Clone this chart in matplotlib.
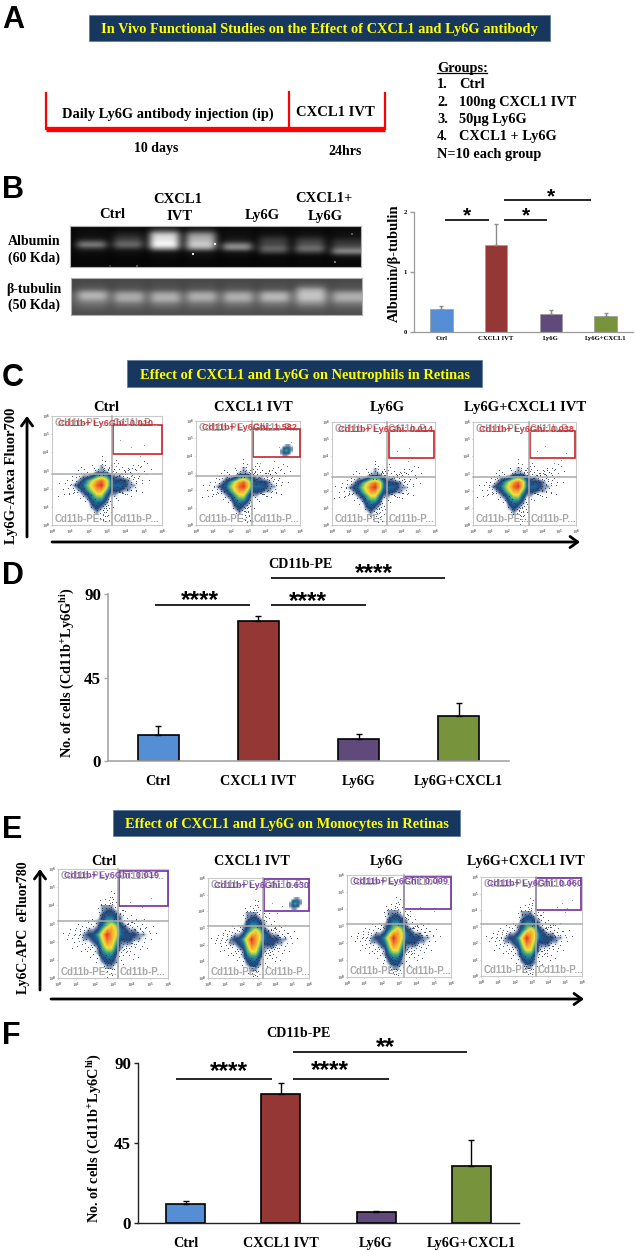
import numpy as np
import matplotlib
matplotlib.use("Agg")
import matplotlib.pyplot as plt
from matplotlib.colors import LinearSegmentedColormap
from matplotlib.patches import Rectangle

W, H = 636, 1250
SERIF = "Liberation Serif"
SANS = "Liberation Sans"
plt.rcParams["font.family"] = [SERIF, "DejaVu Serif"]
plt.rcParams["mathtext.fontset"] = "custom"
plt.rcParams["mathtext.rm"] = "Liberation Serif:bold"
plt.rcParams["mathtext.it"] = "Liberation Serif:bold"
plt.rcParams["mathtext.bf"] = "Liberation Serif:bold"
plt.rcParams["mathtext.default"] = "rm"

# bar data
categories_b = ["Ctrl", "CXCL1 IVT", "Ly6G", "Ly6G+CXCL1"]
values_b = [0.39, 1.45, 0.30, 0.27]
errors_b = [0.04, 0.35, 0.06, 0.04]
categories_d = ["Ctrl", "CXCL1 IVT", "Ly6G", "Ly6G+CXCL1"]
values_d = [14.1, 75.2, 11.7, 24.3]
errors_d = [4.7, 2.9, 3.1, 6.7]
categories_f = ["Ctrl", "CXCL1 IVT", "Ly6G", "Ly6G+CXCL1"]
values_f = [10.5, 72.3, 6.2, 31.8]
errors_f = [1.7, 6.4, 0.6, 15.0]
bar_colors = ["#558ED5", "#953735", "#604A7B", "#77933C"]

groups_text = ["1.", "2.", "3.", "4."]
groups_names = ["Ctrl", "100ng CXCL1 IVT", "50µg Ly6G", "CXCL1 + Ly6G"]

# gel lanes, grey level from top to bottom of each lane
albumin_lanes = [
    [.05, .05, .06, .08, .28, .55, .22, .06, .04, .03, .03, .03],
    [.05, .06, .14, .22, .32, .45, .22, .06, .04, .03, .03, .03],
    [.12, .35, .8, .88, .92, 1.0, .65, .12, .05, .04, .03, .03],
    [.08, .22, .58, .68, .74, .82, .62, .12, .06, .04, .03, .03],
    [.04, .05, .06, .08, .16, .52, .58, .12, .05, .03, .03, .03],
    [.04, .05, .08, .18, .26, .28, .42, .3, .06, .03, .03, .03],
    [.04, .05, .07, .16, .27, .32, .47, .3, .06, .03, .03, .03],
    [.04, .05, .06, .1, .2, .24, .38, .6, .16, .04, .03, .03],
]
albumin_gap = [.03, .03, .03, .03, .03, .03, .03, .03, .03, .02, .02, .02]
albumin_spot_x = [215, 193, 137, 335, 352, 110]
albumin_spot_y = [244, 254, 266, 262, 234, 266]
tubulin_lanes = [
    [.28, .3, .32, .42, .68, .72, .6, .46, .4, .34, .31],
    [.28, .3, .31, .36, .6, .68, .66, .48, .4, .34, .31],
    [.28, .3, .31, .36, .6, .7, .68, .5, .41, .34, .31],
    [.28, .3, .31, .37, .62, .7, .64, .47, .4, .34, .31],
    [.28, .3, .31, .37, .6, .7, .66, .48, .4, .34, .31],
    [.28, .3, .31, .37, .64, .74, .68, .48, .4, .34, .31],
    [.28, .32, .42, .66, .76, .78, .72, .56, .44, .35, .31],
    [.28, .3, .31, .38, .62, .7, .66, .48, .4, .34, .31],
]
tubulin_gap = [.27, .28, .28, .3, .36, .38, .38, .36, .33, .31, .3]

# flow density around the main population, 0.25 decade cells
neutro_density = [
    [0, 0, 0, 0, 0, 0, 0, 1, 0, 0, 0, 0, 0, 0, 0, 0],
    [0, 0, 0, 0, 0, 0, 1, 1, 1, 0, 0, 0, 0, 0, 0, 0],
    [0, 0, 0, 1, 1, 2, 4, 5, 4, 2, 1, 1, 0, 0, 0, 0],
    [0, 0, 1, 2, 4, 6, 8, 9, 7, 3, 2, 2, 2, 1, 0, 0],
    [0, 1, 2, 3, 5, 7, 9, 10, 7, 3, 3, 3, 2, 1, 1, 0],
    [0, 0, 1, 2, 4, 6, 8, 8, 5, 2, 2, 2, 1, 1, 0, 0],
    [0, 0, 0, 1, 2, 4, 6, 6, 3, 1, 1, 0, 0, 0, 0, 0],
    [0, 0, 0, 0, 1, 3, 4, 4, 2, 0, 0, 0, 0, 0, 0, 0],
    [0, 0, 0, 0, 0, 2, 3, 2, 1, 0, 0, 0, 0, 0, 0, 0],
    [0, 0, 0, 0, 0, 1, 2, 1, 0, 0, 0, 0, 0, 0, 0, 0],
    [0, 0, 0, 0, 0, 0, 1, 0, 0, 0, 0, 0, 0, 0, 0, 0],
]
mono_density = [
    [0, 0, 0, 0, 0, 1, 1, 1, 0, 0, 0, 0, 0, 0, 0, 0],
    [0, 0, 0, 0, 0, 1, 2, 2, 1, 0, 0, 0, 0, 0, 0, 0],
    [0, 0, 0, 0, 0, 2, 3, 3, 2, 1, 0, 0, 0, 0, 0, 0],
    [0, 0, 0, 0, 1, 2, 4, 4, 3, 1, 0, 0, 0, 0, 0, 0],
    [0, 0, 0, 0, 1, 3, 5, 7, 5, 2, 1, 0, 0, 0, 0, 0],
    [0, 0, 1, 1, 2, 5, 8, 8, 6, 3, 2, 1, 1, 0, 0, 0],
    [0, 1, 2, 2, 4, 7, 10, 8, 6, 3, 2, 2, 2, 1, 1, 0],
    [0, 1, 1, 2, 3, 6, 9, 8, 5, 2, 2, 2, 1, 1, 0, 0],
    [0, 0, 0, 1, 2, 5, 8, 7, 4, 1, 1, 1, 0, 0, 0, 0],
    [0, 0, 0, 0, 1, 4, 6, 6, 3, 1, 0, 0, 0, 0, 0, 0],
    [0, 0, 0, 0, 1, 3, 4, 4, 2, 0, 0, 0, 0, 0, 0, 0],
    [0, 0, 0, 0, 0, 2, 3, 3, 1, 0, 0, 0, 0, 0, 0, 0],
    [0, 0, 0, 0, 0, 1, 2, 2, 1, 0, 0, 0, 0, 0, 0, 0],
    [0, 0, 0, 0, 0, 0, 1, 1, 0, 0, 0, 0, 0, 0, 0, 0],
]
cluster_density = [
    [0, 0, 1, 1, 0],
    [0, 2, 3, 3, 1],
    [1, 3, 4, 3, 1],
    [1, 2, 3, 2, 0],
    [0, 1, 1, 0, 0],
]

# scattered events, decades relative to the population centre
neutro_dx = [-2.3, -2.1, -1.9, -1.8, -1.6, -2.4, -1.7, -1.4, -1.2, -1.5, -0.9, -0.6, -0.3, 0.1, 0.3, 0.6, 0.9, 1.1,
             1.3, 1.5, 1.7, 1.9, 2.1, 2.3, 2.5, 2.7, 1.2, 1.4, 1.6, 1.8, 2.0, 2.2, 2.4, 2.6, 0.9, 1.1, 0.7, 0.4, 0.1,
             -0.2, 0.2, 0.5, 0.8, 1.0, 1.3, 1.6, 1.9, 2.2, -0.4, -0.1, 0.2, -1.1, -1.3, 0.0, 0.1, 0.4, 0.5, -0.5]
neutro_dy = [0.1, -0.2, 0.3, -0.5, 0.5, -0.6, 0.0, 0.6, -0.7, -0.3, -0.9, -1.2, -1.6, -1.9, -1.7, -1.2, -0.8, -0.4,
             0.7, 0.9, 1.1, 0.8, 1.0, 1.3, 1.2, 0.9, 0.3, -0.2, 0.5, -0.1, 0.4, 0.1, 0.6, 0.3, 1.2, 1.0, 0.9, 1.0, 0.9,
             0.9, 1.3, 1.1, 1.4, 0.6, -0.5, -0.6, -0.3, -0.4, -1.5, -1.8, -2.0, 1.0, 0.8, 1.6, -2.2, -1.9, -1.5, 1.1]
mono_dx = [-2.4, -2.2, -2.0, -1.8, -1.6, -1.9, -1.4, -2.1, -1.2, -1.7, 0.1, 0.3, 0.5, -0.1, -0.3, 0.4, 0.2, 0.0, -0.5,
           0.7, 1.0, 1.3, 1.6, 1.9, 2.1, 2.3, 2.5, 2.7, 1.2, 1.5, 1.8, 2.0, 2.2, 2.4, 0.9, 1.1, 1.4, 1.7, -0.6, -0.9,
           -1.1, -0.8, 0.2, 0.4, -0.1, 0.6, 0.8, 1.0, 1.3, 1.6, 1.9, -0.2, 0.1, 0.3, 0.5, -0.4, 0.9, 1.2, 1.5, 2.0]
mono_dy = [0.1, -0.2, 0.3, -0.4, 0.6, -0.7, -0.9, 0.0, 0.8, 0.4, 1.9, 2.1, 1.8, 2.0, 1.7, 2.3, -2.1, -2.3, 1.5,
           1.6, 1.3, 1.1, 0.9, 0.6, 0.4, 0.2, 0.5, 0.1, -0.3, -0.5, -0.8, -0.4, -0.7, -0.2, -1.1, -0.9, -1.3, -1.2,
           -1.5, -1.2, -0.9, 0.9, 2.4, -1.9, -1.8, -1.7, 1.4, 1.6, 0.7, 0.8, 0.2, -2.0, -2.5, -2.2, 1.2, 1.9, -1.6,
           -0.7, 0.3, 0.9]
# each list is drawn again at these spreads to thicken the cloud
speckle_spreads = [1.0, 0.86, 0.73, 0.62]

# one list per flow plot: pixel box, quadrant, gate, population centre, gate percentage
neutro_titles = ["Ctrl", "CXCL1 IVT", "Ly6G", "Ly6G+CXCL1 IVT"]
neutro_boxes = [(52, 416, 162, 525), (196, 421, 300, 525), (332, 422, 435, 525), (473, 422, 576, 525)]
neutro_vlines = [112, 252, 387, 529]
neutro_hlines = [474, 476, 477, 477]
neutro_gates = [(113, 425, 162, 454), (253, 429, 300, 457), (389, 431, 434, 458), (530, 431, 575, 458)]
neutro_centres = [(2.7, 2.2), (2.73, 2.2), (2.5, 2.15), (2.63, 2.23)]
neutro_pct = ["0.010", "1.582", "0.014", "0.038"]
neutro_title_x = [106, 253, 387, 525]
neutro_gate_x = [[3.7, 4.3, 5.0, 4.8], [3.9, 4.5, 4.8, 5.5, 3.7], [3.8, 4.5, 5.2, 4.4], [3.7, 4.2, 5.1, 5.4, 4.7, 4.0]]
neutro_gate_y = [[4.7, 4.3, 4.4, 3.8], [3.9, 3.7, 4.5, 4.8, 3.6], [4.3, 4.5, 3.9, 3.7], [4.3, 4.6, 3.8, 4.2, 3.6, 3.9]]

mono_titles = ["Ctrl", "CXCL1 IVT", "Ly6G", "Ly6G+CXCL1 IVT"]
mono_boxes = [(58, 869, 168, 978), (208, 878, 309, 978), (347, 875, 451, 977), (481, 877, 582, 976)]
mono_vlines = [118, 263, 404, 536]
mono_hlines = [921, 926, 924, 924]
mono_gates = [(119, 871, 168, 906), (264, 879, 309, 911), (404, 877, 451, 909), (536, 878, 581, 910)]
mono_centres = [(2.67, 2.37), (2.6, 2.3), (2.65, 2.3), (2.7, 2.3)]
mono_pct = ["0.019", "0.630", "0.009", "0.060"]
mono_title_x = [104, 252, 387, 526]
mono_gate_x = [[3.9, 4.6, 5.1], [4.1, 4.4, 3.8], [4.2, 5.0], [4.8, 5.1, 5.4, 5.0, 4.5]]
mono_gate_y = [[4.2, 3.9, 4.4], [3.9, 4.3, 4.5], [4.1, 3.9], [4.4, 4.1, 4.6, 3.9, 4.2]]

flow_cmap = LinearSegmentedColormap.from_list("flow", [
    (0, "#ffffff"), (0.05, "#e4e9f0"), (0.1, "#7f93b3"), (0.18, "#26477a"), (0.28, "#1b5f95"), (0.4, "#3aa08a"),
    (0.5, "#8cc65a"), (0.62, "#f2e23c"), (0.78, "#f7a92e"), (1, "#e5302a")])

fig = plt.figure(figsize=(W / 100, H / 100), dpi=100, facecolor="white")
page = fig.add_axes([0, 0, 1, 1], zorder=5)
page.set_xlim(0, W)
page.set_ylim(H, 0)
page.axis("off")
page.patch.set_alpha(0)


def box_axes(x0, y0, x1, y1):
    return fig.add_axes([x0 / W, 1 - y1 / H, (x1 - x0) / W, (y1 - y0) / H])


def label(x, y, s, size=10.5, color="black", rotation=0, ha="center", family=SERIF):
    return page.text(x, y, s, fontsize=size, color=color, rotation=rotation, ha=ha, va="center_baseline",
                     rotation_mode="anchor", fontweight="bold", family=family)


def banner(x0, y0, x1, y1, s, size):
    page.add_patch(Rectangle((x0, y0), x1 - x0, y1 - y0, fc="#17375E", ec="#5f7fa3", lw=0.6))
    label((x0 + x1) / 2, (y0 + y1) / 2, s, size=size, color="#FFFF00")


def sig_line(x0, x1, y, stars, star_x, star_y, size=15):
    page.plot([x0, x1], [y, y], color="black", lw=1.2, solid_capstyle="butt")
    label(star_x, star_y, stars, size=size, family=SANS)


def arrow(x0, y0, x1, y1):
    page.annotate("", xy=(x1, y1), xytext=(x0, y0),
                  arrowprops=dict(arrowstyle="->,head_length=0.55,head_width=0.4", lw=2, color="black",
                                  shrinkA=0, shrinkB=0))


def gel(x0, y0, x1, y1, lanes, gap):
    ax = box_axes(x0, y0, x1, y1)
    cols = []
    for lane in lanes:
        cols += [gap, lane, lane, lane, lane]
    ax.imshow(np.array(cols).T, cmap="gray", vmin=0, vmax=1, aspect="auto", interpolation="bicubic")
    ax.set_xticks([])
    ax.set_yticks([])
    for s in ax.spines.values():
        s.set_color("#b0b0b0")
        s.set_linewidth(0.8)
    return ax


def bar_panel(box, names, values, errors, ymax, yticks, edge, ecolor, tick_size, spine_color, spine_lw):
    ax = box_axes(*box)
    x = np.arange(len(names))
    ax.bar(x, values, width=0.41, color=bar_colors, edgecolor=edge, linewidth=1.2 if edge == "black" else 0.5)
    ax.errorbar(x, values, yerr=[np.zeros(len(errors)), errors], fmt="none", ecolor=ecolor, elinewidth=1,
                capsize=2.5 if edge == "black" else 1.5, capthick=1)
    ax.set_xlim(-0.5, len(names) - 0.5)
    ax.set_ylim(0, ymax)
    ax.set_yticks(yticks)
    ax.set_xticks(x)
    ax.set_xticklabels(names)
    ax.tick_params(axis="x", length=0, labelsize=tick_size, pad=10 if tick_size > 6 else 3)
    ax.tick_params(axis="y", length=3, width=1, color=spine_color,
                   labelsize=tick_size + 2 if tick_size > 6 else tick_size, pad=2)
    for t in ax.get_xticklabels() + ax.get_yticklabels():
        t.set_fontweight("bold")
    for side in ["top", "right"]:
        ax.spines[side].set_visible(False)
    for side in ["left", "bottom"]:
        ax.spines[side].set_color(spine_color)
        ax.spines[side].set_linewidth(spine_lw)
    ax.patch.set_alpha(0)
    return ax


def flow_plot(box, vline, hline, gate, centre, density, peak, dx, dy, gate_x, gate_y, pct, gate_color, cluster=None):
    x0, y0, x1, y1 = box
    ax = box_axes(x0, y0, x1, y1)
    grid = np.array(density, dtype=float)
    cx, cy = centre
    rows, cols = grid.shape
    cell = 0.25
    ext = [cx - (peak[1] + 0.5) * cell, cx + (cols - peak[1] - 0.5) * cell,
           cy - (rows - peak[0] - 0.5) * cell, cy + (peak[0] + 0.5) * cell]
    ax.imshow(grid, cmap=flow_cmap, vmin=0, vmax=10, extent=ext, aspect="auto", interpolation="bilinear", zorder=1)
    for spread in speckle_spreads:
        ax.scatter(cx + np.array(dx) * spread, cy + np.array(dy) * spread, s=0.45, color="#24324f", alpha=0.8,
                   linewidths=0, zorder=2)
    ax.scatter(gate_x, gate_y, s=0.5, color="#8a93a3", linewidths=0, zorder=2)
    if cluster is not None:
        cc = 0.15
        ax.imshow(np.array(cluster_density, dtype=float), cmap=flow_cmap, vmin=0, vmax=10, aspect="auto",
                  interpolation="bilinear", zorder=2,
                  extent=[cluster[0] - 2.5 * cc, cluster[0] + 2.5 * cc, cluster[1] - 2.5 * cc, cluster[1] + 2.5 * cc])
    ax.set_xlim(0, 6)
    ax.set_ylim(0, 6)
    ticks = list(range(7))
    tick_text = ["10$^{%d}$" % t for t in ticks]
    ax.set_xticks(ticks)
    ax.set_yticks(ticks)
    ax.set_xticklabels(tick_text)
    ax.set_yticklabels(tick_text)
    ax.tick_params(length=1, width=0.4, labelsize=3.2, pad=0.8, color="#777777", labelcolor="#333333")
    for s in ax.spines.values():
        s.set_color("#c9c9c9")
        s.set_linewidth(0.8)
    # quadrant, gate and overlapping statistics, placed in page pixels
    page.plot([vline, vline], [y0, y1], color="#a9a9a9", lw=1.1)
    page.plot([x0, x1], [hline, hline], color="#a9a9a9", lw=1.1)
    page.add_patch(Rectangle((gate[0], gate[1]), gate[2] - gate[0], gate[3] - gate[1], fill=False,
                             ec=gate_color, lw=1.2))
    grey = "#a8a8a8"
    top = y0 + 6
    label(x0 + 3, y1 - 7, "Cd11b-PE-...", size=7, color=grey, ha="left", family=SANS)
    label(vline + 2, y1 - 7, "Cd11b-P...", size=7, color=grey, ha="left", family=SANS)
    label(x0 + 3, top, "Cd11b-PE-...", size=7, color=grey, ha="left", family=SANS)
    label(vline + 1, top, "Cd11b-P...", size=7, color=grey, ha="left", family=SANS)
    label(x0 + 6, top, "Cd11b+ Ly6Ghi: " + pct, size=6.6, color=gate_color, ha="left", family=SANS).set_alpha(0.85)
    return ax


# A
label(2, 16, "A", size=22, ha="left", family=SANS)
banner(89, 15, 550, 41, "In Vivo Functional Studies on the Effect of CXCL1 and Ly6G antibody", 10.4)
page.plot([46, 46, 385, 385], [93, 128.5, 128.5, 93], color="#ff0000", lw=1.6, solid_joinstyle="miter")
page.plot([46, 385], [128.5, 128.5], color="#ff0000", lw=3.8, solid_capstyle="butt")
page.plot([288.5, 288.5], [92, 127], color="#ff0000", lw=1.6)
label(168, 113, "Daily Ly6G antibody injection (ip)", size=10.4)
label(335, 111, "CXCL1 IVT", size=10.5)
label(156, 147, "10 days", size=10)
label(345, 150, "24hrs", size=10)
label(437, 67, "Groups:", size=10.4, ha="left")
page.plot([437, 487], [73, 73], color="black", lw=0.9)
for i, (num, name) in enumerate(zip(groups_text, groups_names)):
    row_y = [83, 101, 118, 135][i]
    label(437, row_y, num, size=10.4, ha="left")
    label(459, row_y, name, size=10.4, ha="left")
label(437, 153, "N=10 each group", size=10.4, ha="left")

# B
label(2, 187, "B", size=22, ha="left", family=SANS)
label(112, 213, "Ctrl", size=10.5)
label(178, 198, "CXCL1", size=10.5)
label(180, 215, "IVT", size=10.5)
label(262, 214, "Ly6G", size=10.5)
label(324, 197, "CXCL1+", size=10.5)
label(325, 215, "Ly6G", size=10.5)
label(34, 240, "Albumin", size=10)
label(34, 257, "(60 Kda)", size=10)
label(34, 288, "β-tubulin", size=10)
label(34, 304, "(50 Kda)", size=10)
gel(70, 226, 361, 267, albumin_lanes, albumin_gap)
gel(71, 278, 362, 315, tubulin_lanes, tubulin_gap)
page.scatter(albumin_spot_x, albumin_spot_y, s=[2.5, 2.5, 0.8, 1.2, 0.8, 0.5], color="white", linewidths=0)
bar_panel((414, 212, 633, 332), categories_b, values_b, errors_b, 2, [0, 1, 2], "#9a9a9a", "#8c8c8c", 4.8,
          "#9a9a9a", 0.9)
label(393, 263, "Albumin/β-tubulin", size=10.5, rotation=90)
sig_line(445, 489, 219.5, "*", 467, 214)
sig_line(504, 547, 219.5, "*", 526, 214)
sig_line(504, 591, 200, "*", 551, 195)

# C
label(2, 374, "C", size=22, ha="left", family=SANS)
banner(127, 360, 482, 387, "Effect of CXCL1 and Ly6G on Neutrophils in Retinas", 10.4)
for i in range(4):
    flow_plot(neutro_boxes[i], neutro_vlines[i], neutro_hlines[i], neutro_gates[i], neutro_centres[i],
              neutro_density, (4, 7), neutro_dx, neutro_dy, neutro_gate_x[i], neutro_gate_y[i], neutro_pct[i],
              "#C8242B", cluster=(5.23, 4.27) if i == 1 else None)
    label(neutro_title_x[i], 406, neutro_titles[i], size=10.5)
arrow(27, 537, 27, 416)
label(10, 476, "Ly6G-Alexa Fluor700", size=10.5, rotation=90)
arrow(52, 542, 580, 542)

# D
label(2, 572, "D", size=22, ha="left", family=SANS)
label(300, 563, "CD11b-PE", size=10.2)
bar_panel((108, 594, 509, 761), categories_d, values_d, errors_d, 90, [0, 45, 90], "black", "black", 10.2,
          "#a6a6a6", 1.2)
label(65, 673, "No. of cells (Cd11b$^{+}$Ly6G$^{hi}$)", size=10.3, rotation=90)
sig_line(155, 250, 605, "****", 200, 598, size=17.5)
sig_line(271, 366, 605, "****", 308, 599, size=17.5)
sig_line(271, 445, 578, "****", 374, 571, size=17.5)

# E
label(2, 826, "E", size=22, ha="left", family=SANS)
banner(113, 810, 460, 836, "Effect of CXCL1 and Ly6G on Monocytes in Retinas", 10.4)
for i in range(4):
    flow_plot(mono_boxes[i], mono_vlines[i], mono_hlines[i], mono_gates[i], mono_centres[i],
              mono_density, (6, 6), mono_dx, mono_dy, mono_gate_x[i], mono_gate_y[i], mono_pct[i],
              "#7030A0", cluster=(5.2, 4.44) if i == 1 else None)
    label(mono_title_x[i], 860, mono_titles[i], size=10.2)
arrow(40, 990, 40, 869)
label(22, 928, "Ly6C-APC  eFluor780", size=10, rotation=90)
arrow(51, 999, 584, 999)

# F
label(2, 1033, "F", size=22, ha="left", family=SANS)
label(298, 1032, "CD11b-PE", size=10.2)
bar_panel((138, 1063, 519, 1223), categories_f, values_f, errors_f, 90, [0, 45, 90], "black", "black", 10.2,
          "#222222", 1.0)
label(92, 1138, "No. of cells (Cd11b$^{+}$Ly6C$^{hi}$)", size=10.3, rotation=90)
sig_line(176, 272, 1079, "****", 229, 1069, size=17.5)
sig_line(293, 389, 1079, "****", 330, 1068, size=17.5)
sig_line(293, 467, 1052, "**", 385, 1045, size=17.5)

fig.savefig("out.png", dpi=100, facecolor="white")
